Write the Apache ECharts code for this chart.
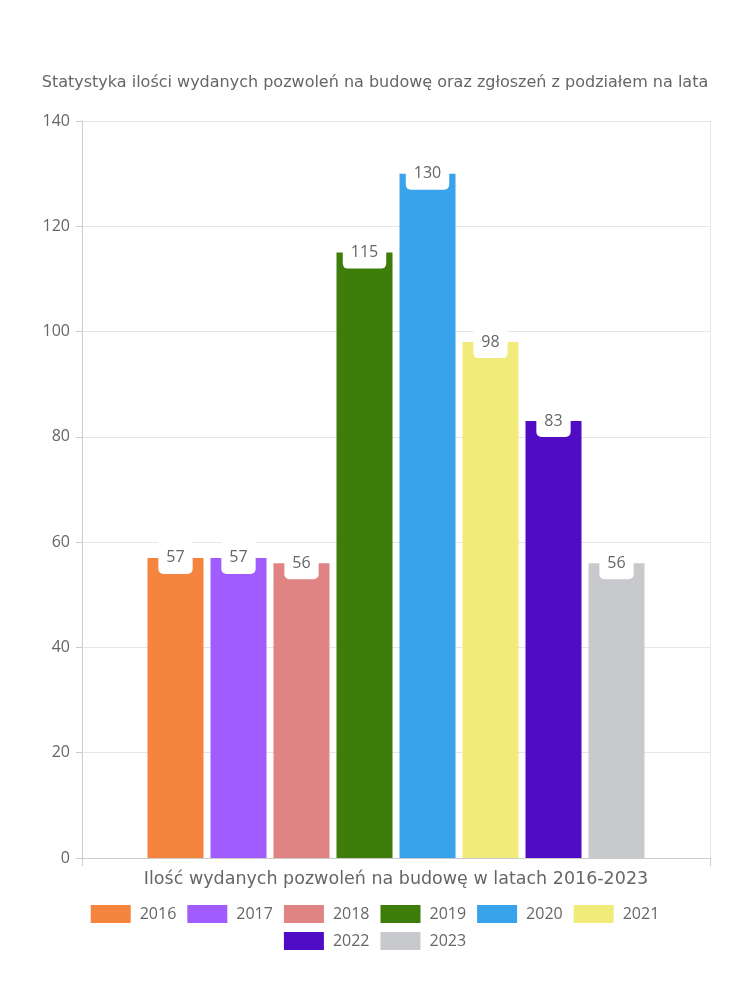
<!DOCTYPE html>
<html><head><meta charset="utf-8">
<script src="https://cdn.jsdelivr.net/npm/echarts@6/dist/echarts.min.js"></script>
<style>html,body{margin:0;padding:0;background:#fff}#c{width:750px;height:1000px}</style>
</head><body><div id="c"></div>
<script>
var categories = ['Ilość wydanych pozwoleń na budowę w latach 2016-2023'];
var years = ['2016','2017','2018','2019','2020','2021','2022','2023'];
var values = [57, 57, 56, 115, 130, 98, 83, 56];
var colors = ['#F5843F','#A05CFF','#E08383','#3F7D0B','#38A2EA','#F0EB7A','#500CC4','#C8C9CC'];
var yTicks = {min: 0, max: 140, interval: 20};
var FONT = '"Open Sans", "Noto Sans", sans-serif';
var WIDE = '"DejaVu Sans", "Open Sans", sans-serif';
var TXT = '#666';
var chart = echarts.init(document.getElementById('c'), null, {renderer: 'canvas'});
var series = years.map(function (y, i) {
  return {
    name: y, type: 'bar', data: [values[i]],
    barWidth: 56, barGap: '12.5%',
    itemStyle: {color: colors[i]},
    label: {
      show: true, position: ['50%', 0], align: 'center', verticalAlign: 'middle',
      backgroundColor: '#fff', padding: [8, 8, 8, 8], borderRadius: [0, 0, 5, 5],
      color: TXT, fontSize: 16, fontFamily: FONT
    }
  };
});
function legendFor(names, top) {
  return {top: top, left: 'center', data: names, itemWidth: 40, itemHeight: 18, itemGap: 11,
    icon: 'rect', textStyle: {color: TXT, fontSize: 16, fontFamily: FONT, padding: [0, 0, 0, 4]}};
}
chart.setOption({
  animation: false,
  textStyle: {fontFamily: FONT},
  title: {text: 'Statystyka ilości wydanych pozwoleń na budowę oraz zgłoszeń z podziałem na lata',
    left: 'center', top: 70, textStyle: {color: TXT, fontSize: 16, fontWeight: 'normal', fontFamily: WIDE}},
  grid: {left: 82, right: 40, top: 121, bottom: 142},
  legend: [legendFor(years.slice(0, 6), 900), legendFor(years.slice(6), 927)],
  xAxis: {type: 'category', data: categories,
    axisLine: {lineStyle: {color: '#ccc'}},
    axisTick: {show: true, length: 8, lineStyle: {color: '#ccc'}},
    splitLine: {show: true, lineStyle: {color: '#e6e6e6'}},
    axisLabel: {color: TXT, fontSize: 17.5, fontFamily: WIDE, margin: 12}},
  yAxis: {type: 'value', min: yTicks.min, max: yTicks.max, interval: yTicks.interval,
    axisLine: {show: true, lineStyle: {color: '#ccc'}},
    axisTick: {show: true, length: 6, lineStyle: {color: '#ccc'}},
    splitLine: {lineStyle: {color: '#e6e6e6'}},
    axisLabel: {color: TXT, fontSize: 16, fontFamily: FONT, margin: 12}},
  series: series
});
</script></body></html>
